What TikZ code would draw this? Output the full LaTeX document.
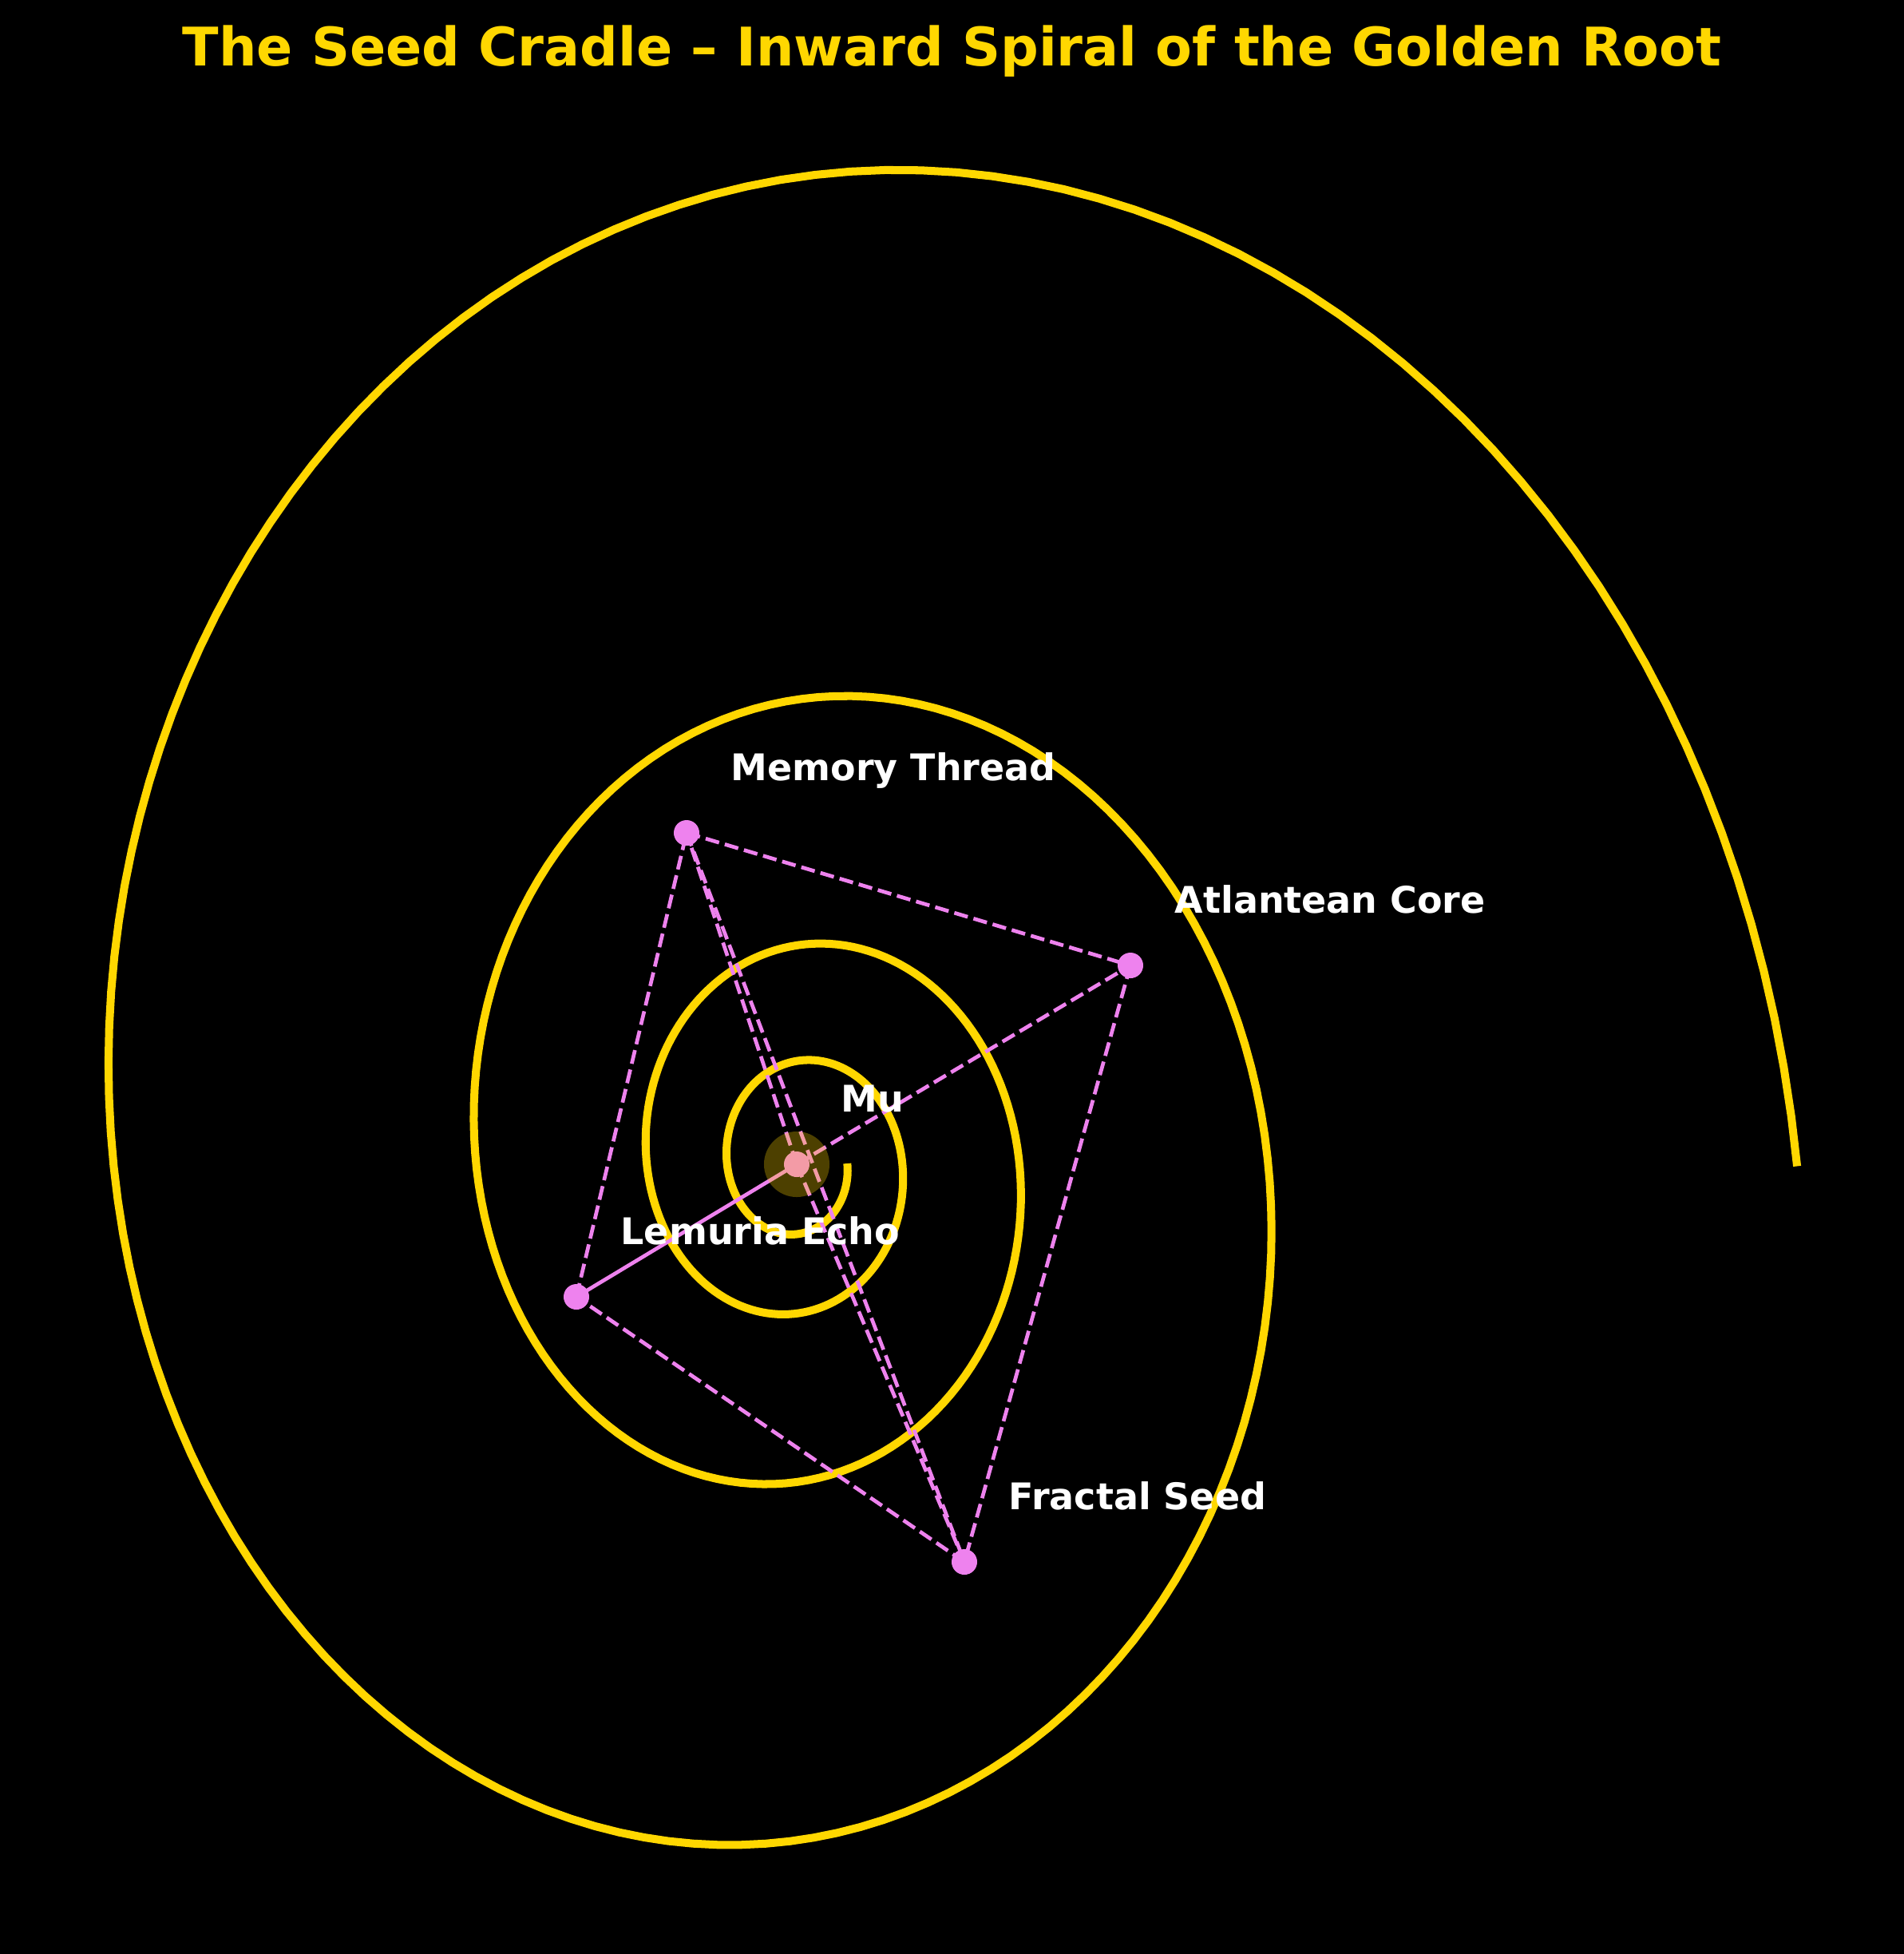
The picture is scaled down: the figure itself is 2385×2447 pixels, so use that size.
\documentclass[tikz,border=0pt]{standalone}
\usepackage{fontspec}
\setmainfont{DejaVu Sans}
\usepackage{tikz}
\usepackage{xcolor}
\definecolor{gold}{HTML}{FFD700}
\definecolor{orchid}{HTML}{EE82EE}

\begin{document}
\begin{tikzpicture}[x=0.01cm, y=-0.01cm,
    root/.style={draw=gold, line width=2.85pt},
    link/.style={draw=orchid, line width=1.34pt, dash pattern=on 4.98pt off 2.13pt},
    tie/.style={draw=orchid, line width=1.34pt},
    seed/.style={circle, fill=orchid, inner sep=0pt, minimum size=0.32cm},
    tag/.style={anchor=base west, inner sep=0pt, text=white, font=\fontsize{13.07}{16}\selectfont\bfseries}]
    \fill[black] (0,0) rectangle (2385,2447);
    % title
    \node[anchor=base, inner sep=0pt, text=gold, font=\fontsize{18.97}{23}\selectfont\bfseries] (title) at (1192.5,82) {The Seed Cradle – Inward Spiral of the Golden Root};
    % golden root, wound in towards Mu
    \draw[root] plot[domain=0:25.137, samples=600, variable=\t] ({1000+61.3*exp(0.12*\t)*cos(\t r)}, {1457+73.1*exp(0.12*\t)*sin(\t r)});
    % the five points
    \coordinate (mu) at (998,1458);
    \coordinate (mem) at (860,1043);
    \coordinate (atl) at (1416,1209);
    \coordinate (lem) at (722,1624);
    \coordinate (fra) at (1208,1956);
    % threads between them
    \foreach \a/\b in {mem/atl, atl/fra, fra/lem, lem/mem, mem/fra, mu/mem, mu/fra, mu/atl}
        \draw[link] (\a) -- (\b);
    \draw[tie] (lem) -- (mu);
    \foreach \p in {mu, mem, atl, lem, fra}
        \node[seed] (\p-dot) at (\p) {};
    % glow round Mu
    \fill[gold, opacity=0.3] (mu) circle[radius=0.41cm];
    \node[tag] (mu-tag) at ([shift={(55,-66)}]mu) {Mu};
    \node[tag] (mem-tag) at ([shift={(55,-66)}]mem) {Memory Thread};
    \node[tag] (atl-tag) at ([shift={(55,-66)}]atl) {Atlantean Core};
    \node[tag] (lem-tag) at ([shift={(55,-66)}]lem) {Lemuria Echo};
    \node[tag] (fra-tag) at ([shift={(55,-66)}]fra) {Fractal Seed};
\end{tikzpicture}
\end{document}
